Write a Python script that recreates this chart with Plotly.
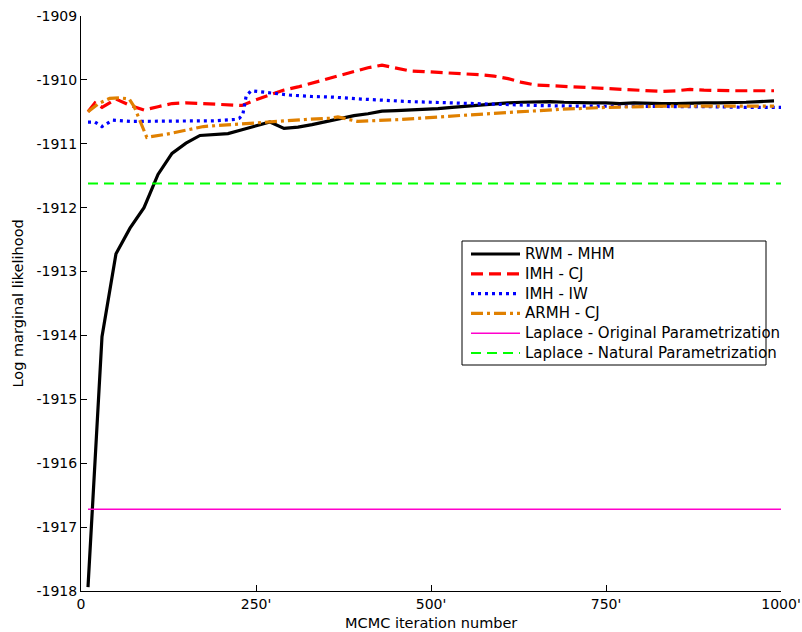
import plotly.graph_objects as go

# MCMC estimates of the log marginal likelihood against iteration count
rwm_iter = [10, 30, 50, 70, 90, 110, 130, 150, 170, 190, 210, 230, 250, 270, 290,
            310, 330, 350, 370, 390, 410, 430, 450, 470, 490, 510, 530, 550, 570,
            590, 610, 630, 650, 670, 690, 710, 730, 750, 770, 790, 810, 830, 850,
            870, 890, 910, 930, 950, 970, 990]
rwm_mhm = [-1917.94, -1914.02, -1912.72, -1912.32, -1912.00, -1911.48, -1911.15,
           -1910.99, -1910.87, -1910.85, -1910.84, -1910.78, -1910.72, -1910.66,
           -1910.76, -1910.74, -1910.70, -1910.65, -1910.60, -1910.56, -1910.53,
           -1910.49, -1910.48, -1910.47, -1910.47, -1910.45, -1910.43, -1910.41,
           -1910.39, -1910.37, -1910.36, -1910.35, -1910.34, -1910.34, -1910.35,
           -1910.36, -1910.36, -1910.36, -1910.37, -1910.36, -1910.37, -1910.37,
           -1910.37, -1910.36, -1910.36, -1910.36, -1910.36, -1910.35, -1910.34,
           -1910.33]

imh_cj_iter = [10, 20, 30, 50, 70, 90, 110, 130, 150, 170, 190, 210, 230, 250, 270,
               290, 310, 330, 350, 370, 390, 410, 430, 450, 470, 490, 510, 530, 550,
               570, 590, 610, 630, 650, 670, 690, 710, 730, 750, 770, 790, 810, 830,
               850, 870, 890, 910, 930, 950, 970, 990]
imh_cj = [-1910.50, -1910.36, -1910.43, -1910.30, -1910.40, -1910.47, -1910.42,
          -1910.37, -1910.36, -1910.37, -1910.37, -1910.38, -1910.40, -1910.31,
          -1910.24, -1910.16, -1910.11, -1910.05, -1909.98, -1909.92, -1909.86,
          -1909.81, -1909.77, -1909.82, -1909.86, -1909.87, -1909.88, -1909.89,
          -1909.91, -1909.92, -1909.94, -1909.98, -1910.04, -1910.08, -1910.09,
          -1910.10, -1910.12, -1910.13, -1910.14, -1910.15, -1910.16, -1910.17,
          -1910.18, -1910.17, -1910.15, -1910.16, -1910.17, -1910.17, -1910.17,
          -1910.17, -1910.17]

imh_iw_iter = [10, 20, 30, 45, 70, 100, 130, 160, 190, 220, 226, 231, 236, 243,
               270, 300, 330, 360, 400, 430, 470, 500, 550, 600, 650, 700, 750, 800,
               850, 900, 950, 1000]
imh_iw = [-1910.66, -1910.66, -1910.73, -1910.63, -1910.65, -1910.65, -1910.65,
          -1910.65, -1910.64, -1910.62, -1910.60, -1910.55, -1910.25, -1910.17,
          -1910.20, -1910.24, -1910.26, -1910.27, -1910.30, -1910.32, -1910.34,
          -1910.35, -1910.37, -1910.38, -1910.40, -1910.41, -1910.41, -1910.42,
          -1910.42, -1910.42, -1910.43, -1910.43]

armh_iter = [10, 25, 41, 55, 69, 76, 94, 127, 175, 223, 270, 320, 356, 367, 395,
             457, 552, 624, 685, 752, 847, 990]
armh_cj = [-1910.50, -1910.37, -1910.29, -1910.28, -1910.30, -1910.42, -1910.90,
           -1910.84, -1910.73, -1910.69, -1910.65, -1910.62, -1910.60, -1910.58,
           -1910.65, -1910.62, -1910.55, -1910.50, -1910.46, -1910.43, -1910.41,
           -1910.41]

laplace_iter = [10, 1000]
laplace_original = -1916.72
laplace_natural = -1911.62

x_tickvals = [0, 250, 500, 750, 1000]
x_ticktext = ["0", "250'", "500'", "750'", "1000'"]
y_tickvals = [-1918, -1917, -1916, -1915, -1914, -1913, -1912, -1911, -1910, -1909]

series_names = ["RWM - MHM", "IMH - CJ", "IMH - IW", "ARMH - CJ",
                "Laplace - Original Parametrization",
                "Laplace - Natural Parametrization"]
series_lines = [
    dict(color="#000000", width=3.2),
    dict(color="#FF0000", width=3.2, dash="12px,6px"),
    dict(color="#0000FF", width=3.2, dash="3px,4px"),
    dict(color="#E08000", width=3.2, dash="12px,4px,3px,4px"),
    dict(color="#FF00CC", width=1.6),
    dict(color="#00FF00", width=2, dash="10px,6px"),
]

FONT = "DejaVu Sans, Verdana, sans-serif"

fig = go.Figure()
series_xy = [
    (rwm_iter, rwm_mhm),
    (imh_cj_iter, imh_cj),
    (imh_iw_iter, imh_iw),
    (armh_iter, armh_cj),
    (laplace_iter, [laplace_original] * len(laplace_iter)),
    (laplace_iter, [laplace_natural] * len(laplace_iter)),
]
for (xs, ys), name, line in zip(series_xy, series_names, series_lines):
    fig.add_trace(go.Scatter(x=xs, y=ys, mode="lines", name=name, line=line,
                             showlegend=False))

axis_common = dict(showgrid=False, zeroline=False, showline=True, linecolor="#000000",
                   linewidth=1, ticks="inside", ticklen=6, tickcolor="#000000",
                   mirror=False, automargin=False, ticklabeloverflow="allow")

fig.update_xaxes(range=[0, 1000], tickvals=x_tickvals, ticktext=x_ticktext,
                 tickfont=dict(family=FONT, size=14, color="#000000"), **axis_common)
fig.update_yaxes(range=[-1918, -1909], tickvals=y_tickvals,
                 ticktext=[str(v) for v in y_tickvals],
                 tickfont=dict(family=FONT, size=14, color="#000000"), **axis_common)

# axis titles
fig.add_annotation(text="Log marginal likelihood", xref="paper", yref="paper",
                   x=-0.0914, y=0.5, xanchor="center", yanchor="middle",
                   textangle=-90, showarrow=False,
                   font=dict(family=FONT, size=14.5, color="#000000"))
fig.add_annotation(text="MCMC iteration number", xref="paper", yref="paper",
                   x=0.5, y=-0.0557, xanchor="center", yanchor="middle",
                   showarrow=False, font=dict(family=FONT, size=14.5, color="#000000"))

# legend box, line samples and labels (paper coordinates)
PLOT_L, PLOT_W, PLOT_B, PLOT_H = 81, 700, 591, 575


def px_x(px):
    return (px - PLOT_L) / PLOT_W


def px_y(py):
    return (PLOT_B - py) / PLOT_H


fig.add_shape(type="rect", xref="paper", yref="paper",
              x0=px_x(462), x1=px_x(766), y0=px_y(365), y1=px_y(241),
              line=dict(color="#000000", width=1), fillcolor="#FFFFFF", layer="above")
row_y0, row_step = 254, 19.8
for i, (name, line) in enumerate(zip(series_names, series_lines)):
    yy = px_y(row_y0 + i * row_step)
    fig.add_shape(type="line", xref="paper", yref="paper",
                  x0=px_x(471), x1=px_x(520), y0=yy, y1=yy, line=line, layer="above")
    fig.add_annotation(text=name, xref="paper", yref="paper", x=px_x(523), y=yy,
                       xanchor="left", yanchor="middle", showarrow=False,
                       font=dict(family=FONT, size=15, color="#000000"))

fig.update_layout(
    width=802, height=632,
    margin=dict(l=81, r=21, t=16, b=41),
    paper_bgcolor="#FFFFFF", plot_bgcolor="#FFFFFF",
    showlegend=False,
)

fig.write_html("out.html")
